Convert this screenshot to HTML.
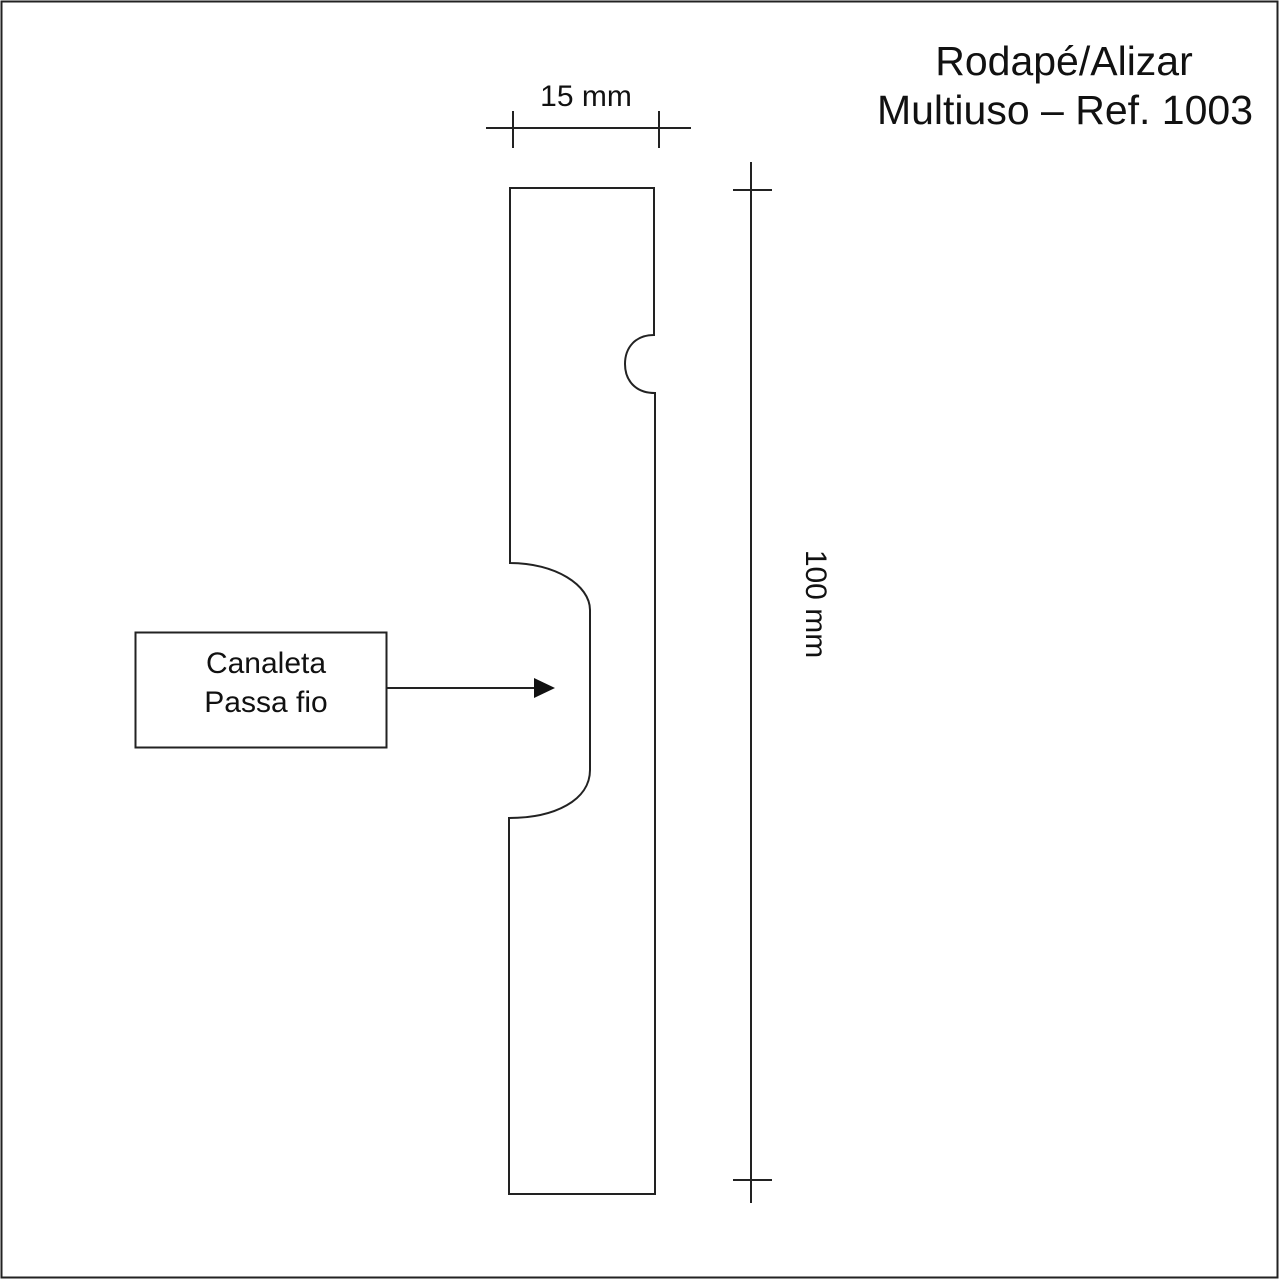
<!DOCTYPE html>
<html><head><meta charset="utf-8"><style>
html,body{margin:0;padding:0;background:#fff;}
svg{display:block;}
text{font-family:"Liberation Sans",Arial,sans-serif;fill:#111;}
</style></head><body>
<svg width="1280" height="1280" viewBox="0 0 1280 1280" xmlns="http://www.w3.org/2000/svg">
<rect x="1.5" y="1.5" width="1276" height="1276" fill="#fff" stroke="#222" stroke-width="2"/>
<text x="1064" y="75" font-size="41" text-anchor="middle">Rodapé/Alizar</text>
<text x="1253" y="124" font-size="41" text-anchor="end">Multiuso – Ref. 1003</text>
<g stroke="#222" stroke-width="2" fill="none">
<line x1="486" y1="128" x2="691" y2="128"/>
<line x1="513" y1="111" x2="513" y2="148"/>
<line x1="659" y1="111" x2="659" y2="148"/>
<line x1="751" y1="162" x2="751" y2="1203"/>
<line x1="733" y1="190" x2="772" y2="190"/>
<line x1="733" y1="1180" x2="772" y2="1180"/>
<path d="M654 188 L510 188 L510 563 C555 563 590 585 590 610 L590 770 C590 800 555 818 509 818 L509 1194 L655 1194 L655 393 C635 393 625 380 625 364 C625 348 635 335 654 335 Z"/>
<rect x="135.5" y="632.5" width="251" height="115"/>
<line x1="386" y1="688" x2="538" y2="688"/>
</g>
<polygon points="534,678 555,688 534,698" fill="#111"/>
<text x="586" y="106" font-size="30" text-anchor="middle">15 mm</text>
<text x="266" y="673" font-size="30" text-anchor="middle">Canaleta</text>
<text x="266" y="712" font-size="30" text-anchor="middle">Passa fio</text>
<text x="0" y="0" font-size="30" text-anchor="middle" transform="translate(806,604) rotate(90)">100 mm</text>
</svg>
</body></html>
